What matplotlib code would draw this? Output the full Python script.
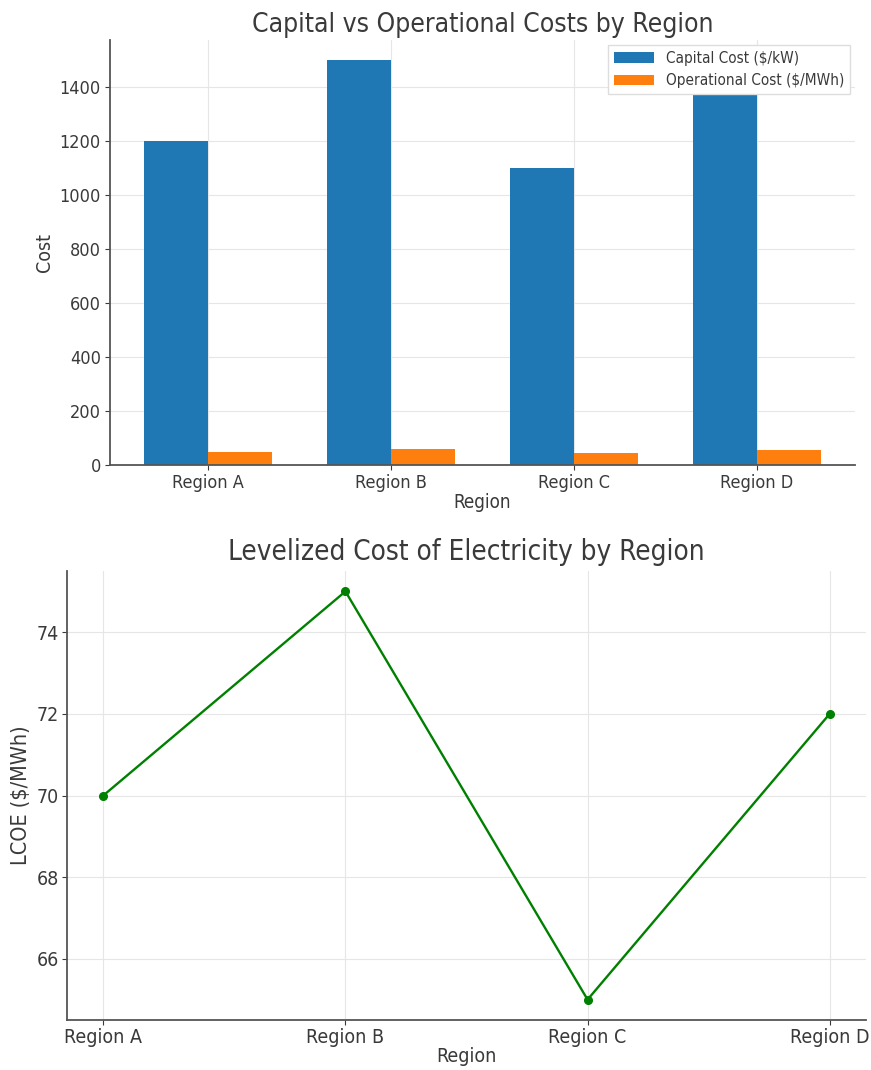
import matplotlib
matplotlib.use('Agg')
import matplotlib.pyplot as plt
import numpy as np

# regional cost data
regions = ['Region A', 'Region B', 'Region C', 'Region D']
capital_cost = [1200, 1500, 1100, 1400]      # $/kW
operational_cost = [50, 60, 45, 55]          # $/MWh
lcoe = [70, 75, 65, 72]                      # $/MWh

text_col = '#3a3a3a'
plt.rcParams.update({
    'font.family': 'DejaVu Sans',
    'font.stretch': 'condensed',
    'text.color': text_col,
    'axes.labelcolor': text_col,
    'xtick.color': text_col,
    'ytick.color': text_col,
    'axes.edgecolor': '#555555',
    'axes.linewidth': 1.3,
    'axes.spines.top': False,
    'axes.spines.right': False,
    'grid.color': '#e6e6e6',
    'grid.linewidth': 0.8,
})

fig = plt.figure(figsize=(8.71, 10.70), dpi=100)
ax1 = fig.add_axes([110/871, 1 - 465/1070, 745/871, 425/1070])
ax2 = fig.add_axes([67/871, 1 - 1020/1070, 799/871, 449/1070])

#%% capital vs operational bars
x = np.arange(len(regions))
w = 0.35
ax1.bar(x - w/2, capital_cost, w, label='Capital Cost ($/kW)', color='#1f77b4')
ax1.bar(x + w/2, operational_cost, w, label='Operational Cost ($/MWh)', color='#ff7f0e')
ax1.set_xticks(x)
ax1.set_xticklabels(regions)
ax1.tick_params(labelsize=13, pad=3)
ax1.set_xlabel('Region', fontsize=13.5, labelpad=1)
ax1.set_ylabel('Cost', fontsize=14)
ax1.set_title('Capital vs Operational Costs by Region', fontsize=19, pad=6)
ax1.grid(True)
ax1.set_axisbelow(True)
ax1.legend(loc='upper right', fontsize=11, fancybox=False, edgecolor='#dddddd',
           framealpha=1, borderaxespad=0.3, handlelength=2.6)

#%% LCOE line
ax2.plot(regions, lcoe, marker='o', color='green', lw=1.7, ms=5.5)
ax2.set_xlabel('Region', fontsize=14, labelpad=0)
ax2.set_ylabel('LCOE ($/MWh)', fontsize=15.5)
ax2.set_title('Levelized Cost of Electricity by Region', fontsize=20, pad=8)
ax2.tick_params(labelsize=14, pad=2)
ax2.grid(True)

fig.savefig('out.png', dpi=100)
